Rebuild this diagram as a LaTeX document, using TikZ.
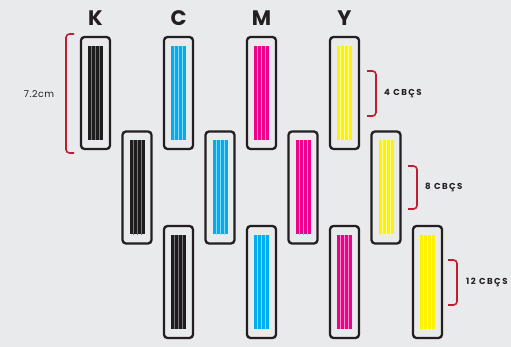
\documentclass[tikz,border=0pt]{standalone}
\usepackage{fontspec}
\setmainfont{Poppins}
\usetikzlibrary{calc}
\definecolor{bg}{RGB}{233,234,236}
\definecolor{ink}{RGB}{35,31,32}
\definecolor{kcol}{RGB}{30,28,29}
\definecolor{kline}{RGB}{120,120,122}
\definecolor{ccol}{RGB}{0,174,239}
\definecolor{cline}{RGB}{140,215,248}
\definecolor{mcol}{RGB}{236,0,140}
\definecolor{mline}{RGB}{248,150,205}
\definecolor{ycol}{RGB}{255,242,0}
\definecolor{yline}{RGB}{255,250,170}
\definecolor{brk}{RGB}{190,30,45}
\tikzset{
  cartbox/.style={draw=ink, line width=2.3pt, rounded corners=3.5pt, fill=bg,
    minimum width=29pt, minimum height=112pt, inner sep=0pt},
  barbox/.style={inner sep=0pt, minimum width=15pt, minimum height=94pt},
  bracket/.style={draw=brk, line width=1.6pt, rounded corners=3.5pt},
  inklabel/.style={text=ink, font=\fontsize{21}{21}\selectfont\bfseries},
  cnt/.style={text=ink, anchor=west, inner sep=0pt,
    font=\fontsize{8.6}{9}\selectfont\bfseries\addfontfeature{LetterSpace=17}},
}
\newcommand\cartridge[5]{%
  \node[cartbox] (#1) at (#2,#3) {};
  \node[barbox, fill=#4] (#1b) at (#1.center) {};
  \foreach \i in {1,2,3}
    \draw[#5, line width=0.6pt]
      ($(#1b.north west)!\i/4!(#1b.north east)$) --
      ($(#1b.south west)!\i/4!(#1b.south east)$);
}
\begin{document}
\begin{tikzpicture}[x=1pt,y=-1pt]
\fill[bg] (0,0) rectangle (511,347);
\useasboundingbox (0,0) rectangle (511,347);
% K
\cartridge{k1}{95.5}{93}{kcol}{kline}
\cartridge{k2}{137}{187.5}{kcol}{kline}
\cartridge{k3}{178.5}{282}{kcol}{kline}
% C
\cartridge{c1}{178.5}{93}{ccol}{cline}
\cartridge{c2}{220}{187.5}{ccol}{cline}
\cartridge{c3}{261.5}{282}{ccol}{cline}
% M
\cartridge{m1}{261.5}{93}{mcol}{mline}
\cartridge{m2}{303}{187.5}{mcol}{mline}
\cartridge{m3}{344.5}{282}{mcol}{mline}
% Y
\cartridge{y1}{344.5}{93}{ycol}{yline}
\cartridge{y2}{386}{187.5}{ycol}{yline}
\cartridge{y3}{427.5}{282}{ycol}{yline}
% top labels
\node[inklabel] (lk) at (95.5,18) {K};
\node[inklabel] (lc) at (178.5,18) {C};
\node[inklabel] (lm) at (261.5,18) {M};
\node[inklabel] (ly) at (344.5,18) {Y};
% left bracket
\draw[bracket] (74,34) -- (66,34) -- (66,153) -- (74,153);
\node[text=ink, font=\fontsize{9.5}{10}\selectfont\addfontfeature{LetterSpace=5}] (h) at (39,94) {7.2cm};
% right brackets
\draw[bracket] (367,71) -- (376,71) -- (376,116) -- (367,116);
\node[cnt] (c4) at (384,93.5) {4 CBÇS};
\draw[bracket] (408,166) -- (417,166) -- (417,209) -- (408,209);
\node[cnt] (c8) at (425,187.5) {8 CBÇS};
\draw[bracket] (448,260) -- (457,260) -- (457,305) -- (448,305);
\node[cnt] (c12) at (466,282.5) {12 CBÇS};
\end{tikzpicture}
\end{document}
